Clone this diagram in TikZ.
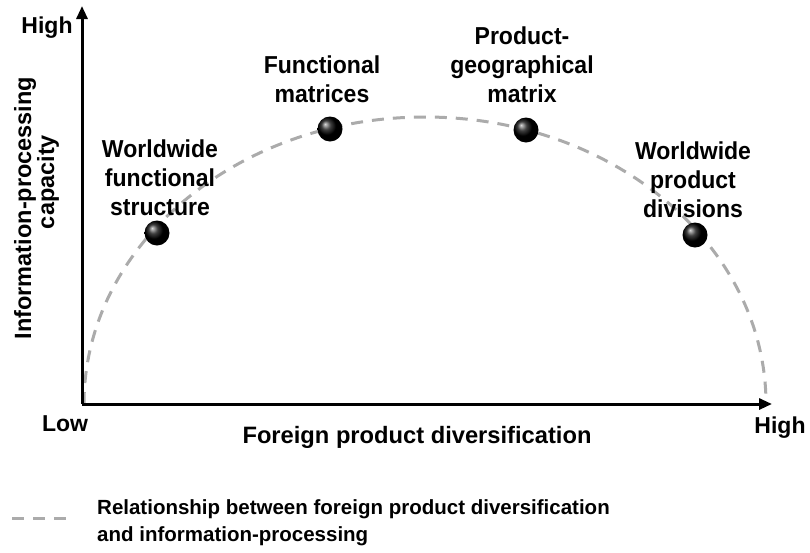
\documentclass[tikz,border=0pt]{standalone}
\usepackage{fontspec}
\setmainfont{Liberation Sans}
\usetikzlibrary{arrows.meta}
\begin{document}
\begin{tikzpicture}[x=1pt,y=-1pt,
  axis/.style={line width=3pt,-{Triangle[length=13pt,width=11pt]}},
  relcurve/.style={line width=3pt,draw=black!33,dash pattern=on 12pt off 9pt},
  orgball/.style={circle,minimum size=25pt,inner sep=0pt,shading=ball,ball color=black},
  lbl/.style={align=center,font=\fontsize{24.5}{29}\selectfont\bfseries,inner sep=0pt,xscale=0.94},
  axlbl/.style={font=\fontsize{23}{28}\selectfont\bfseries,inner sep=0pt}]
\useasboundingbox (0,0) rectangle (810,552);
\coordinate (O) at (82,404);
\coordinate (Ytip) at (82,6);
\coordinate (Xtip) at (772,404);
\draw[relcurve] (84,404) arc[start angle=180,end angle=0,x radius=341,y radius=-287];
\draw[axis] (O) -- (Ytip);
\draw[axis] (O) -- (Xtip);
\node[orgball] (b1) at (157,233) {};
\node[orgball] (b2) at (330,129) {};
\node[orgball] (b3) at (526,130) {};
\node[orgball] (b4) at (695,235) {};
\node[lbl] (t1) at (160,178) {Worldwide\\functional\\structure};
\node[lbl] (t2) at (322,79) {Functional\\matrices};
\node[lbl] (t3) at (522,65) {Product-\\geographical\\matrix};
\node[lbl] (t4) at (693,180) {Worldwide\\product\\divisions};
\node[axlbl] (yh) at (47,28) {High};
\node[axlbl] (xl) at (65,424) {Low};
\node[axlbl] (xh) at (780,428) {High};
\node[font=\fontsize{23.7}{28}\selectfont\bfseries,inner sep=0pt] (xlab) at (417,437) {Foreign product diversification};
\node[font=\fontsize{23.5}{28}\selectfont\bfseries,inner sep=0pt,rotate=90] (ylab1) at (25,208) {Information-processing};
\node[font=\fontsize{23.5}{28}\selectfont\bfseries,inner sep=0pt,rotate=90] (ylab2) at (48,182) {capacity};
\coordinate (lg1) at (12,518);
\coordinate (lg2) at (66,518);
\draw[relcurve] (lg1) -- (lg2);
\node[font=\fontsize{20.5}{27}\selectfont\bfseries,align=left,anchor=west,inner sep=0pt] (leg) at (97,523) {Relationship between foreign product diversification\\and information-processing};
\end{tikzpicture}
\end{document}
